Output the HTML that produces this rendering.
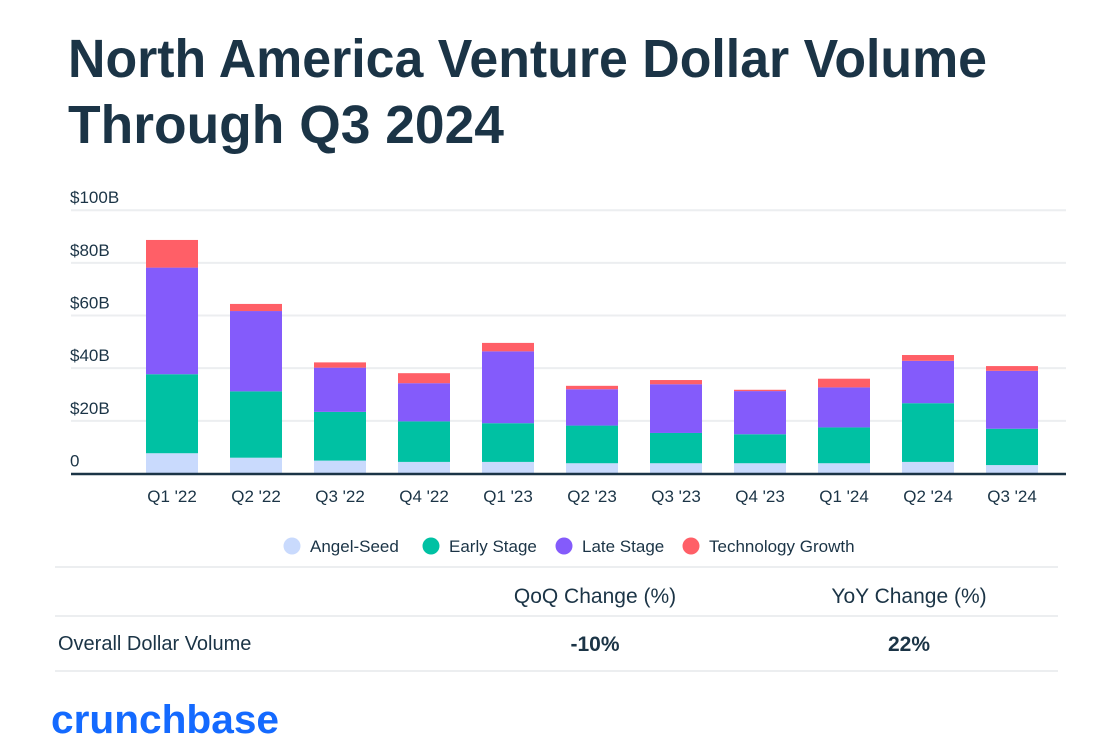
<!DOCTYPE html>
<html><head><meta charset="utf-8"><style>
html,body{margin:0;padding:0;background:#fff;}
svg{display:block;font-family:"Liberation Sans",sans-serif;}
</style></head><body>
<svg id="chart" width="1109" height="754" viewBox="0 0 1109 754">
<text x="68" y="77" font-size="54" font-weight="bold" fill="#1b3446" textLength="919" lengthAdjust="spacingAndGlyphs">North America Venture Dollar Volume</text>
<text x="68" y="143" font-size="54" font-weight="bold" fill="#1b3446" textLength="436" lengthAdjust="spacingAndGlyphs">Through  Q3 2024</text>
<g id="grid"></g>
<g id="bars"></g>
<g id="xlabels"></g>
<line x1="71" x2="1066" y1="474" y2="474" stroke="#1b3446" stroke-width="2.5"/>
<g font-size="17" fill="#1b3446">
 <g><circle cx="292" cy="546" r="8.5" fill="#c9dafd"/><text x="310" y="552">Angel-Seed</text></g>
 <g><circle cx="431" cy="546" r="8.5" fill="#00c1a3"/><text x="449" y="552">Early Stage</text></g>
 <g><circle cx="564" cy="546" r="8.5" fill="#845bfb"/><text x="582" y="552">Late Stage</text></g>
 <g><circle cx="691" cy="546" r="8.5" fill="#ff5f67"/><text x="709" y="552">Technology Growth</text></g>
</g>
<g fill="#1b3446">
 <line x1="55" x2="1058" y1="567" y2="567" stroke="#eceef0" stroke-width="2"/>
 <line x1="55" x2="1058" y1="616" y2="616" stroke="#eceef0" stroke-width="2"/>
 <line x1="55" x2="1058" y1="671" y2="671" stroke="#eceef0" stroke-width="2"/>
 <text x="595" y="603" font-size="21" text-anchor="middle">QoQ Change (%)</text>
 <text x="909" y="603" font-size="21" text-anchor="middle">YoY Change (%)</text>
 <text x="58" y="650" font-size="20">Overall Dollar Volume</text>
 <text x="595" y="651" font-size="21" font-weight="bold" text-anchor="middle">-10%</text>
 <text x="909" y="651" font-size="21" font-weight="bold" text-anchor="middle">22%</text>
</g>
<text x="51" y="733" font-size="40" font-weight="bold" fill="#146aff" textLength="228" lengthAdjust="spacingAndGlyphs">crunchbase</text>
</svg>
<script>
const categories=["Q1 '22","Q2 '22","Q3 '22","Q4 '22","Q1 '23","Q2 '23","Q3 '23","Q4 '23","Q1 '24","Q2 '24","Q3 '24"];
const angelSeed=[7.7,6.0,4.9,4.4,4.4,3.9,3.9,3.9,3.9,4.4,3.2];
const earlyStage=[30.0,25.2,18.5,15.4,14.7,14.3,11.5,11.0,13.6,22.3,13.8];
const lateStage=[40.5,30.5,16.8,14.5,27.3,13.8,18.5,16.4,15.2,16.1,22.0];
const techGrowth=[10.5,2.7,2.0,3.8,3.2,1.3,1.6,0.5,3.3,2.2,1.8];
const yTicks=[0,20,40,60,80,100];
const yTickLabels=["0","$20B","$40B","$60B","$80B","$100B"];
const NS="http://www.w3.org/2000/svg";
const y0=473.5,pxPer=2.633,firstCenter=172,step=84,barW=52;
function yScale(v){return y0-v*pxPer;}
function xCenter(i){return firstCenter+i*step;}
const grid=document.getElementById('grid');
yTicks.forEach((t,i)=>{
 if(t>0){const l=document.createElementNS(NS,'line');
 
 
 l.setAttribute('x1',71);l.setAttribute('x2',1066);l.setAttribute('y1',yScale(t));l.setAttribute('y2',yScale(t));
 l.setAttribute('stroke','#eceef0');l.setAttribute('stroke-width','2');grid.appendChild(l);}
 const tx=document.createElementNS(NS,'text');
 
 
 tx.setAttribute('x',70);tx.setAttribute('y',yScale(t)-7);tx.setAttribute('font-size','17');tx.setAttribute('fill','#1b3446');
 tx.textContent=yTickLabels[i];grid.appendChild(tx);
});
const series=[[angelSeed,'#c9dafd','angel-seed'],[earlyStage,'#00c1a3','early-stage'],[lateStage,'#845bfb','late-stage'],[techGrowth,'#ff5f67','technology-growth']];
const bars=document.getElementById('bars'),xl=document.getElementById('xlabels');
categories.forEach((c,i)=>{
 let cum=0;
 series.forEach(s=>{
  const v=s[0][i];const r=document.createElementNS(NS,'rect');
  
  
  r.setAttribute('x',xCenter(i)-barW/2);r.setAttribute('width',barW);
  r.setAttribute('y',yScale(cum+v));r.setAttribute('height',v*pxPer);
  r.setAttribute('fill',s[1]);bars.appendChild(r);cum+=v;
 });
 const t=document.createElementNS(NS,'text');
 
 
 t.setAttribute('x',xCenter(i));t.setAttribute('y',502);t.setAttribute('text-anchor','middle');
 t.setAttribute('font-size','17');t.setAttribute('fill','#1b3446');t.textContent=c;xl.appendChild(t);
});
</script>
</body></html>
